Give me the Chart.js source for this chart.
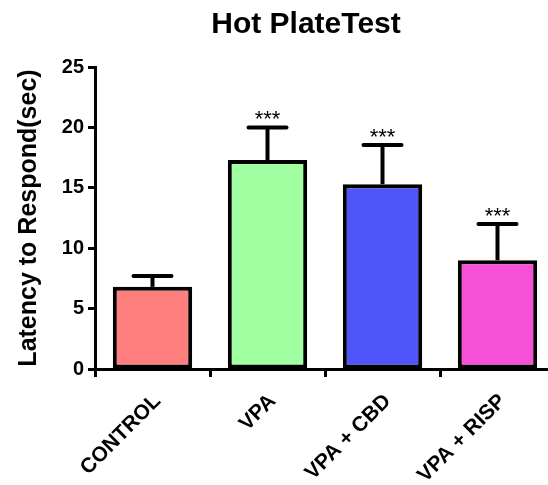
<!DOCTYPE html>
<html>
<head>
<meta charset="utf-8">
<script src="https://cdn.jsdelivr.net/npm/chart.js@4"></script>
<style>
html,body{margin:0;padding:0;background:#fff;overflow:hidden;width:548px;height:485px;}
#wrap{width:556px;height:485px;position:relative;}
</style>
</head>
<body>
<div id="wrap"><canvas id="c"></canvas></div>
<script>
const categories = ['CONTROL', 'VPA', 'VPA + CBD', 'VPA + RISP'];
const meanValues = [6.8, 17.3, 15.3, 9.0];
const errorUpper = [0.9, 2.7, 3.25, 3.0];
const significance = ['', '***', '***', '***'];
const barColors = ['#FF7F7F', '#A0FFA0', '#5055FA', '#F650D8'];
const yTicks = [0, 5, 10, 15, 20, 25];
const chartTitle = 'Hot PlateTest';

const FONT = "'Liberation Sans', Arial, sans-serif";

const titlePlugin = {
  id: 'shiftedTitle',
  afterDraw(chart) {
    const ctx = chart.ctx;
    ctx.save();
    ctx.fillStyle = '#000';
    ctx.font = 'bold 30px ' + FONT;
    ctx.textAlign = 'center';
    ctx.textBaseline = 'alphabetic';
    ctx.fillText(chartTitle, 306, 33);
    ctx.restore();
  }
};

const errorBarPlugin = {
  id: 'errorBars',
  afterDatasetsDraw(chart) {
    const ctx = chart.ctx;
    const meta = chart.getDatasetMeta(0);
    const y = chart.scales.y;
    ctx.save();
    ctx.strokeStyle = '#000';
    ctx.lineWidth = 4;
    meta.data.forEach((bar, i) => {
      const x = bar.x;
      const top = y.getPixelForValue(meanValues[i]);
      const errY = y.getPixelForValue(meanValues[i] + errorUpper[i]);
      ctx.beginPath();
      ctx.moveTo(x, top);
      ctx.lineTo(x, errY);
      ctx.stroke();
      ctx.lineCap = 'round';
      ctx.beginPath();
      ctx.moveTo(x - 19, errY);
      ctx.lineTo(x + 19, errY);
      ctx.stroke();
      ctx.lineCap = 'butt';
      if (significance[i]) {
        ctx.fillStyle = '#000';
        ctx.font = '22px ' + FONT;
        ctx.textAlign = 'center';
        ctx.textBaseline = 'alphabetic';
        ctx.fillText(significance[i], x, errY - 1);
      }
    });
    ctx.restore();
  }
};

new Chart(document.getElementById('c'), {
  type: 'bar',
  data: {
    labels: categories,
    datasets: [{
      data: meanValues,
      backgroundColor: barColors,
      borderColor: '#000',
      borderWidth: 4,
      borderSkipped: false,
      categoryPercentage: 1,
      barPercentage: 0.69
    }]
  },
  options: {
    responsive: true,
    maintainAspectRatio: false,
    animation: false,
    layout: { padding: { left: 14, right: 1, top: 67, bottom: 0 } },
    plugins: {
      legend: { display: false },
      tooltip: { enabled: false },
      title: { display: false }
    },
    scales: {
      x: {
        offset: true,
        grid: { display: true, drawOnChartArea: false, tickLength: 8, tickWidth: 3, tickColor: '#000' },
        border: { display: true, color: '#000', width: 3 },
        ticks: {
          color: '#000',
          font: { family: FONT, size: 21, weight: 'bold' },
          maxRotation: 45, minRotation: 45,
          padding: 12,
          labelOffset: 5
        },
        afterFit(scale) { scale.height = 116; }
      },
      y: {
        min: 0, max: 25,
        grid: { display: true, drawOnChartArea: false, tickLength: 7, tickWidth: 3, tickColor: '#000' },
        border: { display: true, color: '#000', width: 3 },
        afterBuildTicks(scale) { scale.ticks = yTicks.map(v => ({ value: v })); },
        ticks: {
          color: '#000',
          font: { family: FONT, size: 20, weight: 'bold' },
          padding: 4
        },
        title: {
          display: true,
          text: 'Latency to Respond(sec)',
          color: '#000',
          font: { family: FONT, size: 25, weight: 'bold' },
          padding: { top: 0, bottom: 0 }
        },
        afterFit(scale) { scale.width = 81; }
      }
    }
  },
  plugins: [errorBarPlugin, titlePlugin]
});
</script>
</body>
</html>
